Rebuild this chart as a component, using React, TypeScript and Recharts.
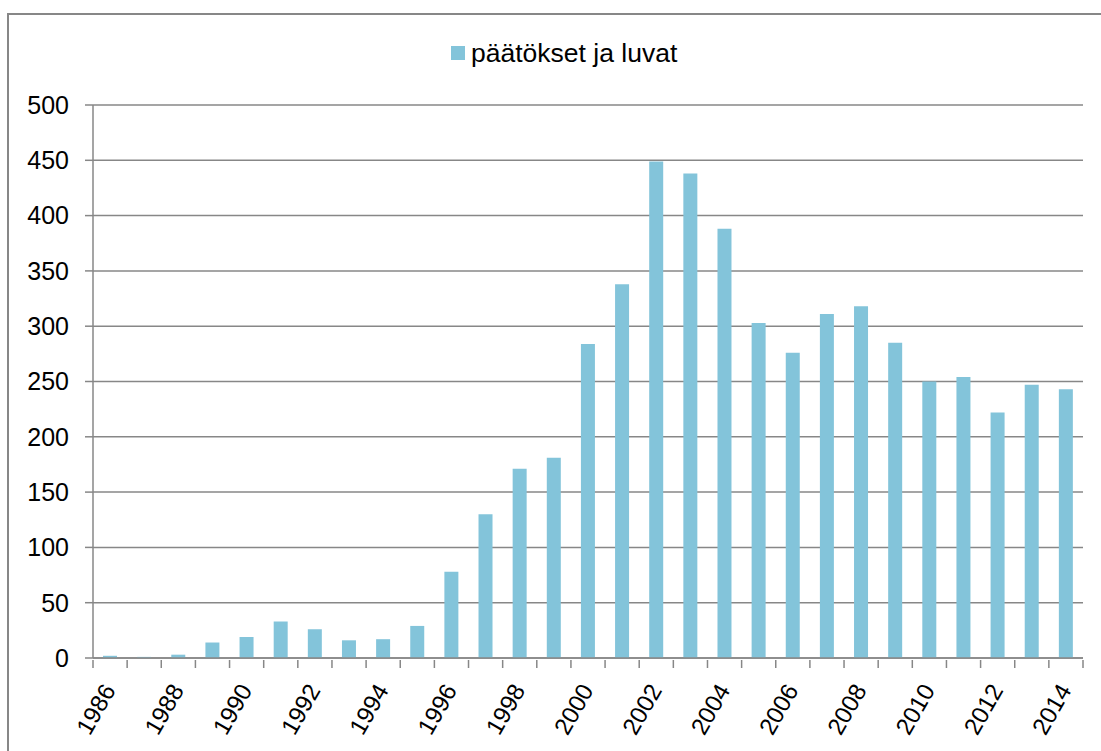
import React from 'react';
import { BarChart, Bar, XAxis, YAxis, CartesianGrid, Legend } from 'recharts';

const years = ['1986','1987','1988','1989','1990','1991','1992','1993','1994','1995','1996','1997','1998','1999','2000','2001','2002','2003','2004','2005','2006','2007','2008','2009','2010','2011','2012','2013','2014'];
const values = [2,1,3,14,19,33,26,16,17,29,78,130,171,181,284,338,449,438,388,303,276,311,318,285,250,254,222,247,243];
const yTicks = [0,50,100,150,200,250,300,350,400,450,500];
const seriesName = 'päätökset ja luvat';

const data = years.map((y, i) => ({ year: y, value: values[i] }));

const FONT = '"Liberation Sans", Arial, sans-serif';
const GRAY = '#878787';
const BAR = '#83C4DA';
const CHART_W = 1101;
const MARGIN = { top: 105, right: 18, bottom: 0, left: 0 };
const Y_W = 93;

const YearTick = (props: any) => {
  const { x, y, payload, index } = props;
  const axisW = typeof props.width === 'number' && props.width > 0 ? props.width : CHART_W - MARGIN.left - MARGIN.right - Y_W;
  const step = axisW / years.length;
  const left = x - step / 2;
  const right = x + step / 2;
  const isLast = index === years.length - 1;
  return (
    <g>
      <line x1={left} x2={left} y1={y} y2={y + 8} stroke={GRAY} strokeWidth={1.5} />
      {isLast && <line x1={right} x2={right} y1={y} y2={y + 8} stroke={GRAY} strokeWidth={1.5} />}
      {index % 2 === 0 && (
        <g transform={`translate(${x - 1},${y + 26})`}>
          <text transform="rotate(-60)" textAnchor="end" dy="0.35em" fontSize={24} fontFamily={FONT} fill="#000">
            {payload.value}
          </text>
        </g>
      )}
    </g>
  );
};

const LegendContent = (props: any) => {
  const items = props.payload || [];
  return (
    <div style={{ display: 'flex', alignItems: 'center', fontFamily: FONT }}>
      {items.map((it: any) => (
        <div key={it.value} style={{ display: 'flex', alignItems: 'center' }}>
          <div style={{ width: 14, height: 14, background: it.color, marginRight: 6 }} />
          <span style={{ fontSize: 26.5, lineHeight: '28px', color: '#000' }}>{it.value}</span>
        </div>
      ))}
    </div>
  );
};

export default function App() {
  return (
    <div style={{ position: 'fixed', left: 0, top: 0, width: 1101, height: 751, background: '#fff', overflow: 'hidden' }}>
      <div style={{ position: 'absolute', left: 7, top: 13, width: 1200, height: 900, borderTop: `2px solid ${GRAY}`, borderLeft: `2px solid ${GRAY}` }} />
      <div style={{ position: 'absolute', left: 0, top: 0 }}>
        <BarChart width={CHART_W} height={751} data={data} margin={MARGIN} barSize={14}>
          <CartesianGrid horizontal vertical={false} stroke={GRAY} strokeWidth={1.5} />
          <XAxis dataKey="year" interval={0} tickLine={false} tickSize={0} axisLine={{ stroke: GRAY, strokeWidth: 1.5 }} height={93} tick={<YearTick />} />
          <YAxis domain={[0, 500]} ticks={yTicks} width={Y_W} tickSize={8} tickMargin={16}
            tickLine={{ stroke: GRAY, strokeWidth: 1.5 }} axisLine={{ stroke: GRAY, strokeWidth: 1.5 }}
            tick={{ fontSize: 25, fontFamily: FONT, fill: '#000' }} />
          <Legend layout="horizontal" verticalAlign="middle" align="center" content={<LegendContent />}
            wrapperStyle={{ left: 451, top: 39, width: 320, height: 28 }} />
          <Bar dataKey="value" name={seriesName} fill={BAR} isAnimationActive={false} />
        </BarChart>
      </div>
    </div>
  );
}
